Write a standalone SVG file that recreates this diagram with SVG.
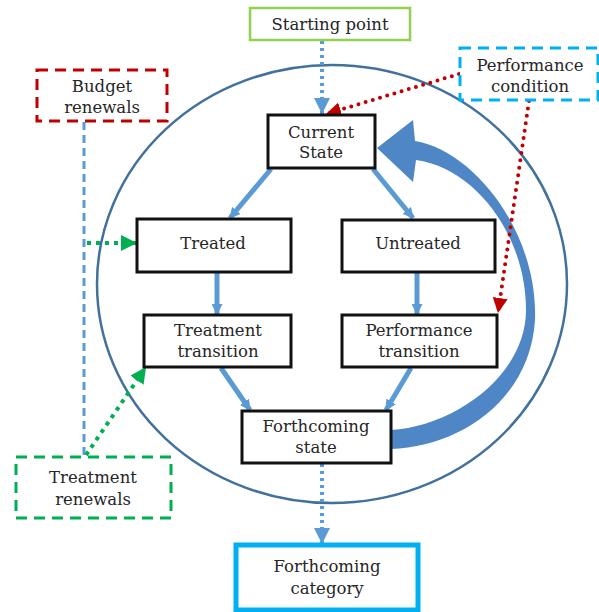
<svg xmlns="http://www.w3.org/2000/svg" width="599" height="612" viewBox="0 0 599 612">
<style>
text{font-family:"DejaVu Serif","Liberation Serif",serif;font-size:16.5px;fill:#262626;text-anchor:middle}
.box{fill:#fff;stroke:#111;stroke-width:3}
.solid{stroke:#5b9bd5;stroke-width:5;fill:none}
.bdot{stroke:#5b9bd5;stroke-width:4;stroke-dasharray:3 4;fill:none}
.rdot{stroke:#c00000;stroke-width:4;stroke-dasharray:0 7.5;stroke-linecap:round;fill:none}
.gdot{stroke:#00b050;stroke-width:4;stroke-dasharray:4 5;fill:none}
</style>
<defs>
<marker id="mSolid" viewBox="0 0 10 10" refX="9" refY="5" markerWidth="11" markerHeight="11" markerUnits="userSpaceOnUse" orient="auto"><path d="M0,0 L10,5 L0,10 z" fill="#5b9bd5"/></marker>
<marker id="mBlue" viewBox="0 0 10 10" refX="10" refY="5" markerWidth="16" markerHeight="18" markerUnits="userSpaceOnUse" orient="auto"><path d="M0,0 L10,5 L0,10 z" fill="#5b9bd5"/></marker>
<marker id="mRed" viewBox="0 0 10 10" refX="10" refY="5" markerWidth="15" markerHeight="16" markerUnits="userSpaceOnUse" orient="auto"><path d="M0,0 L10,5 L0,10 z" fill="#c00000"/></marker>
<marker id="mGreen" viewBox="0 0 10 10" refX="10" refY="5" markerWidth="16" markerHeight="16" markerUnits="userSpaceOnUse" orient="auto"><path d="M0,0 L10,5 L0,10 z" fill="#00b050"/></marker>
</defs>
<rect width="599" height="612" fill="#fff"/>
<ellipse id="cycle" cx="332" cy="284" rx="235" ry="219" fill="none" stroke="#41719c" stroke-width="2.5"/>
<g id="connectors">
<path id="loop" d="M415,141 C472,150 538,230 535,320 C530,400 460,447 391,449 L391,430 C455,426 526,375 526,310 C526,235 475,168 416,160 L413,182 L377,148 L413,120 Z" fill="#4f86c6"/>
<line class="bdot" x1="322" y1="41" x2="322" y2="114" marker-end="url(#mBlue)"/>
<line class="rdot" x1="459" y1="74" x2="326" y2="114" marker-end="url(#mRed)"/>
<line class="rdot" x1="529" y1="101" x2="498" y2="313" marker-end="url(#mRed)"/>
<line x1="84" y1="122" x2="84" y2="456" stroke="#5b9bd5" stroke-width="3" stroke-dasharray="8 5"/>
<line class="gdot" x1="87" y1="243" x2="137" y2="243" marker-end="url(#mGreen)"/>
<line class="gdot" x1="86" y1="455" x2="146" y2="367" marker-end="url(#mGreen)"/>
<line class="solid" x1="271" y1="169" x2="230" y2="218" marker-end="url(#mSolid)"/>
<line class="solid" x1="373" y1="169" x2="413" y2="218" marker-end="url(#mSolid)"/>
<line class="solid" x1="217" y1="273" x2="217" y2="314" marker-end="url(#mSolid)"/>
<line class="solid" x1="417" y1="273" x2="417" y2="314" marker-end="url(#mSolid)"/>
<line class="solid" x1="221" y1="368" x2="250" y2="410" marker-end="url(#mSolid)"/>
<line class="solid" x1="411" y1="368" x2="386" y2="410" marker-end="url(#mSolid)"/>
<line class="bdot" x1="322" y1="464" x2="322" y2="544" marker-end="url(#mBlue)"/>
</g>
<g id="starting-point"><rect x="250" y="8" width="160" height="32" fill="#fff" stroke="#92d050" stroke-width="2.5"/><text x="330" y="30">Starting point</text></g>
<g id="budget-renewals"><rect x="37" y="70" width="130" height="51" fill="#fff" stroke="#c00000" stroke-width="3" stroke-dasharray="11 7"/><text x="102" y="92">Budget</text><text x="102" y="113">renewals</text></g>
<g id="performance-condition"><rect x="460" y="48" width="138" height="52" fill="#fff" stroke="#00b0f0" stroke-width="3" stroke-dasharray="11 7"/><text x="530" y="71">Performance</text><text x="530" y="92">condition</text></g>
<g id="current-state"><rect class="box" x="268" y="115" width="107" height="53"/><text x="321" y="138">Current</text><text x="321" y="158">State</text></g>
<g id="treated"><rect class="box" x="137" y="219" width="154" height="53"/><text x="213" y="249">Treated</text></g>
<g id="untreated"><rect class="box" x="342" y="220" width="153" height="52"/><text x="418" y="249">Untreated</text></g>
<g id="treatment-transition"><rect class="box" x="144" y="315" width="147" height="52"/><text x="218" y="336">Treatment</text><text x="218" y="357">transition</text></g>
<g id="performance-transition"><rect class="box" x="342" y="315" width="155" height="52"/><text x="419" y="336">Performance</text><text x="419" y="357">transition</text></g>
<g id="forthcoming-state"><rect class="box" x="242" y="411" width="149" height="52"/><text x="316" y="432">Forthcoming</text><text x="316" y="453">state</text></g>
<g id="treatment-renewals"><rect x="16" y="457" width="155" height="61" fill="#fff" stroke="#00b050" stroke-width="3" stroke-dasharray="11 7"/><text x="93" y="483">Treatment</text><text x="93" y="505">renewals</text></g>
<g id="forthcoming-category"><rect x="236" y="545" width="182" height="65" fill="#fff" stroke="#00b0f0" stroke-width="5"/><text x="327" y="572">Forthcoming</text><text x="327" y="594">category</text></g>
</svg>
